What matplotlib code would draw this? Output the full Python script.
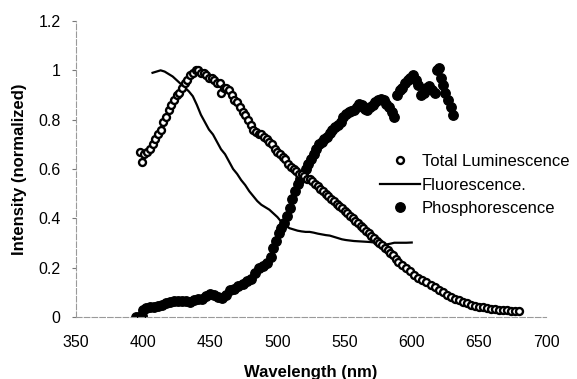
import matplotlib
matplotlib.use("Agg")
import matplotlib.pyplot as plt

# Total luminescence (open markers)
total_wl = [398, 399, 401, 403, 405, 407, 409, 411, 413, 415, 417, 419, 421, 423, 425, 427, 429, 431,
            433, 435, 437, 439, 441, 443, 445, 447, 449, 451, 453, 455, 457, 458, 460, 462, 464, 466,
            468, 470, 472, 474, 476, 478, 480, 482, 484, 486, 488, 490, 492, 494, 496, 498, 500, 502,
            504, 506, 508, 510, 512, 514, 516, 518, 520, 522, 524, 526, 528, 530, 532, 534, 536, 538,
            540, 542, 544, 546, 548, 550, 552, 554, 556, 558, 560, 562, 564, 566, 568, 570, 572, 574,
            576, 578, 580, 582, 584, 586, 588, 590, 593, 596, 599, 602, 605, 608, 611, 614, 617, 620,
            623, 626, 629, 632, 635, 638, 641, 644, 647, 650, 653, 656, 659, 662, 665, 668, 671, 674,
            677, 680]
total_int = [0.67, 0.63, 0.66, 0.67, 0.68, 0.70, 0.72, 0.74, 0.76, 0.79, 0.81, 0.84, 0.86, 0.88, 0.90,
             0.91, 0.93, 0.95, 0.96, 0.98, 0.99, 1.00, 1.00, 0.99, 0.99, 0.98, 0.97, 0.97, 0.96, 0.95,
             0.95, 0.91, 0.93, 0.93, 0.92, 0.90, 0.88, 0.87, 0.85, 0.83, 0.82, 0.80, 0.78, 0.76, 0.75,
             0.74, 0.74, 0.73, 0.72, 0.71, 0.70, 0.68, 0.67, 0.66, 0.65, 0.64, 0.62, 0.61, 0.60, 0.59,
             0.58, 0.58, 0.57, 0.56, 0.56, 0.55, 0.54, 0.53, 0.52, 0.51, 0.50, 0.49, 0.48, 0.47, 0.46,
             0.45, 0.44, 0.43, 0.42, 0.41, 0.40, 0.39, 0.38, 0.37, 0.36, 0.35, 0.34, 0.33, 0.32, 0.31,
             0.30, 0.29, 0.28, 0.27, 0.26, 0.25, 0.235, 0.225, 0.21, 0.20, 0.185, 0.17, 0.16, 0.15,
             0.14, 0.13, 0.12, 0.11, 0.10, 0.09, 0.08, 0.075, 0.068, 0.062, 0.055, 0.050, 0.046,
             0.042, 0.039, 0.036, 0.033, 0.031, 0.030, 0.028, 0.027, 0.026, 0.025, 0.025]

# Fluorescence (line)
fluor_wl = [407, 410, 413, 416, 419, 422, 425, 428, 431, 434, 437, 440, 443, 446, 449, 452, 455, 458,
            461, 464, 467, 470, 473, 476, 479, 482, 485, 488, 491, 494, 497, 500, 503, 506, 509, 512,
            515, 518, 521, 524, 527, 530, 533, 536, 539, 542, 545, 548, 551, 554, 557, 560, 563, 566,
            569, 572, 575, 578, 581, 584, 587, 590, 593, 596, 600]
fluor_int = [0.99, 0.995, 1.0, 0.995, 0.985, 0.975, 0.96, 0.945, 0.93, 0.915, 0.895, 0.86, 0.82, 0.79,
             0.76, 0.74, 0.71, 0.68, 0.66, 0.63, 0.60, 0.58, 0.555, 0.535, 0.51, 0.49, 0.47, 0.455,
             0.445, 0.435, 0.42, 0.405, 0.385, 0.37, 0.36, 0.355, 0.35, 0.347, 0.345, 0.345, 0.342,
             0.338, 0.335, 0.332, 0.33, 0.325, 0.32, 0.315, 0.312, 0.31, 0.308, 0.307, 0.306, 0.305,
             0.304, 0.302, 0.30, 0.298, 0.294, 0.297, 0.301, 0.301, 0.301, 0.301, 0.302]

# Phosphorescence (filled markers)
phos_wl = [395, 397, 399, 400, 402, 405, 408, 411, 414, 417, 420, 423, 426, 429, 432, 435, 438, 441,
           444, 447, 450, 453, 456, 459, 462, 465, 468, 471, 474, 477, 480, 483, 486, 489, 492, 495,
           497, 499, 501, 503, 505, 507, 509, 511, 513, 515, 517, 519, 521, 523, 525, 527, 529, 531,
           533, 535, 537, 539, 541, 543, 545, 547, 549, 551, 553, 555, 557, 559, 561, 563, 565, 567,
           569, 571, 573, 575, 577, 579, 581, 583, 585, 587, 589, 591, 593, 595, 597, 599, 601, 603,
           605, 607, 609, 611, 613, 615, 617, 619, 620, 622, 623, 625, 627, 629, 631]
phos_int = [0.0, 0.0, 0.005, 0.03, 0.035, 0.04, 0.04, 0.045, 0.05, 0.055, 0.06, 0.065, 0.065, 0.066,
            0.063, 0.062, 0.068, 0.075, 0.075, 0.085, 0.095, 0.09, 0.08, 0.078, 0.09, 0.11, 0.115,
            0.125, 0.135, 0.145, 0.155, 0.18, 0.20, 0.205, 0.22, 0.245, 0.28, 0.31, 0.34, 0.36, 0.38,
            0.41, 0.44, 0.48, 0.51, 0.54, 0.56, 0.58, 0.60, 0.62, 0.64, 0.66, 0.68, 0.70, 0.71, 0.72,
            0.73, 0.745, 0.76, 0.77, 0.78, 0.79, 0.81, 0.825, 0.83, 0.835, 0.84, 0.85, 0.865, 0.86,
            0.845, 0.84, 0.85, 0.86, 0.87, 0.88, 0.885, 0.88, 0.865, 0.85, 0.83, 0.81, 0.90, 0.92,
            0.93, 0.95, 0.96, 0.97, 0.98, 0.96, 0.94, 0.90, 0.91, 0.93, 0.935, 0.92, 0.91, 1.0, 1.01,
            0.97, 0.94, 0.91, 0.88, 0.85, 0.82]

x_ticks = [350, 400, 450, 500, 550, 600, 650, 700]
y_ticks = [0, 0.2, 0.4, 0.6, 0.8, 1, 1.2]
y_tick_labels = ["0", "0.2", "0.4", "0.6", "0.8", "1", "1.2"]

plt.rcParams['font.family'] = ['Liberation Sans', 'DejaVu Sans']

fig = plt.figure(figsize=(5.77, 3.79), dpi=100)
ax = fig.add_axes([76 / 577, 1 - 317 / 379, (546 - 76) / 577, (317 - 21) / 379])

ax.plot(phos_wl, phos_int, linestyle='none', marker='o', markersize=6.8,
        markerfacecolor='black', markeredgecolor='black', label='Phosphorescence', zorder=2)
ax.plot(fluor_wl, fluor_int, color='black', linewidth=1.6, label='Fluorescence.', zorder=3)
ax.plot(total_wl, total_int, linestyle='none', marker='o', markersize=5.0,
        markerfacecolor='white', markeredgecolor='black', markeredgewidth=1.7,
        label='Total Luminescence', zorder=4)

ax.set_xlim(350, 700)
ax.set_ylim(0, 1.2)
ax.set_xticks(x_ticks)
ax.set_xticklabels([str(v) for v in x_ticks])
ax.set_yticks(y_ticks)
ax.set_yticklabels(y_tick_labels)

for s in ['top', 'right']:
    ax.spines[s].set_visible(False)
for s in ['left', 'bottom']:
    ax.spines[s].set_color('#9a9a9a')
    ax.spines[s].set_linewidth(0.8)
    ax.spines[s].set_linestyle((0, (5, 2)))

ax.tick_params(axis='x', length=0, pad=13, labelsize=11.5)
ax.tick_params(axis='y', length=3, width=0.8, color='#777777', pad=8, labelsize=11.5)

ax.set_xlabel('Wavelength (nm)', fontsize=12, fontweight='bold', labelpad=11)
ax.set_ylabel('Intensity (normalized)', fontsize=12, fontweight='bold', labelpad=8)

handles, labels = ax.get_legend_handles_labels()
order = [2, 1, 0]
leg = fig.legend([handles[i] for i in order], [labels[i] for i in order],
                 loc='center left', bbox_to_anchor=(372 / 577, 1 - 185 / 379),
                 frameon=False, fontsize=12, handlelength=2.4, handletextpad=0.1,
                 borderpad=0, labelspacing=0.5)

fig.savefig('out.png', dpi=100)
